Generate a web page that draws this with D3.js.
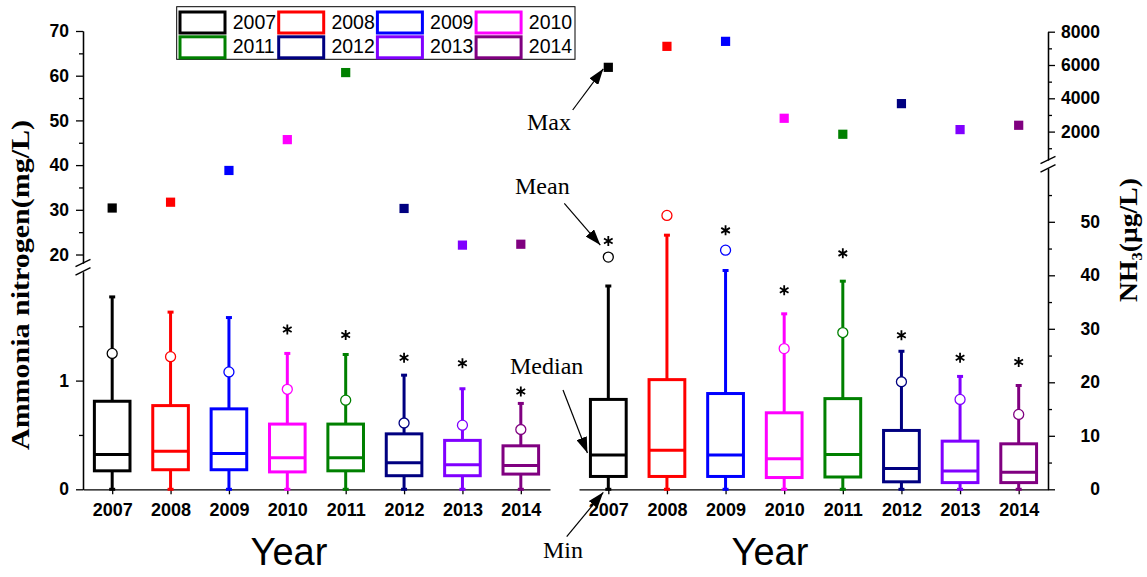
<!DOCTYPE html>
<html>
<head>
<meta charset="utf-8">
<script src="https://cdn.jsdelivr.net/npm/d3@7"></script>
<style>
    body { margin: 0; background: #fff; }
    svg { display: block; }
    .axis path, .axis line { stroke: #000; stroke-width: 1.3; }
    .axis text { font-family: "Liberation Sans", Arial, sans-serif; font-weight: bold; fill: #000; }
</style>
</head>
<body>
<div id="chart"></div>
<script>
// 年份與顏色
const years = ['2007', '2008', '2009', '2010', '2011', '2012', '2013', '2014'];
const colors = ['#000000', '#ff0000', '#0000ff', '#ff00ff', '#008000', '#000080', '#8000ff', '#800080'];

// 左圖：Ammonia nitrogen (mg/L)
const nitroMin = [0, 0, 0, 0, 0, 0, 0, 0];
const nitroQ1 = [0.17, 0.18, 0.18, 0.16, 0.17, 0.125, 0.125, 0.14];
const nitroMedian = [0.32, 0.35, 0.33, 0.29, 0.29, 0.245, 0.225, 0.22];
const nitroQ3 = [0.81, 0.77, 0.74, 0.60, 0.60, 0.51, 0.45, 0.40];
const nitroWhisker = [1.77, 1.63, 1.58, 1.25, 1.24, 1.05, 0.925, 0.79];
const nitroMean = [1.25, 1.22, 1.08, 0.92, 0.82, 0.61, 0.59, 0.55];
const nitroStar = [null, null, null, 1.47, 1.42, 1.21, 1.16, 0.90];
const nitroMax = [30.4, 31.7, 38.8, 45.7, 60.7, 30.3, 22.1, 22.3];

// 右圖：NH3 (μg/L)
const nh3Min = [0, 0, 0, 0, 0, 0, 0, 0];
const nh3Q1 = [2.4, 2.4, 2.4, 2.2, 2.3, 1.4, 1.25, 1.25];
const nh3Median = [6.4, 7.3, 6.4, 5.7, 6.5, 3.9, 3.4, 3.2];
const nh3Q3 = [16.8, 20.5, 17.9, 14.3, 16.95, 11.0, 9.0, 8.5];
const nh3Whisker = [38.0, 47.5, 40.9, 32.8, 38.9, 25.8, 21.1, 19.4];
const nh3Mean = [43.4, 51.2, 44.7, 26.3, 29.3, 20.1, 16.8, 14.0];
const nh3Star = [46.4, null, 48.4, 37.2, 44.1, 28.8, 24.6, 23.8];
const nh3Max = [5860, 7120, 7420, 2800, 1840, 3680, 2120, 2380];

// 刻度
const nitroLowTicks = [0, 1];
const nitroLowMinor = [0.5, 1.5];
const nitroHighTicks = [20, 30, 40, 50, 60, 70];
const nitroHighMinor = [25, 35, 45, 55, 65];
const nh3LowTicks = [0, 10, 20, 30, 40, 50];
const nh3LowMinor = [5, 15, 25, 35, 45, 55];
const nh3HighTicks = [2000, 4000, 6000, 8000];
const nh3HighMinor = [1000, 3000, 5000, 7000];

const width = 1147, height = 577;
const baseY = 489.3;

const svg = d3.select('#chart')
    .append('svg')
    .attr('width', width)
    .attr('height', height);

// 比例尺
const xLeft = d3.scalePoint().domain(years).range([83, 550]).padding(0.5);
const xRight = d3.scalePoint().domain(years).range([579, 1048]).padding(0.5);

const yLeftLow = d3.scaleLinear().domain([0, 2]).range([baseY, 271.9]);
const yLeftHigh = d3.scaleLinear().domain([18.1, 70]).range([263, 31]);
const yRightLow = d3.scaleLinear().domain([0, 60]).range([baseY, 168.3]);
const yRightHigh = d3.scaleLinear().domain([300, 8000]).range([159.9, 31.7]);

// 箭頭
svg.append('defs').append('marker')
    .attr('id', 'arrow')
    .attr('viewBox', '0 0 16 11')
    .attr('refX', 16)
    .attr('refY', 5.5)
    .attr('markerWidth', 16)
    .attr('markerHeight', 11)
    .attr('markerUnits', 'userSpaceOnUse')
    .attr('orient', 'auto')
    .append('path')
    .attr('d', 'M0,0L16,5.5L0,11Z')
    .attr('fill', '#000');

function drawYAxis(axisFn, scale, x, major, minor, labelRight) {
    const g = svg.append('g')
        .attr('class', 'axis')
        .attr('transform', `translate(${x},0)`);
    g.append('g')
        .call(axisFn(scale).tickValues(minor).tickSize(4).tickSizeOuter(0).tickFormat(''));
    const m = g.append('g')
        .call(axisFn(scale).tickValues(major).tickSize(7).tickSizeOuter(0).tickFormat(d3.format('d')));
    m.selectAll('text').style('font-size', '17.5px');
    if (labelRight) {
        m.selectAll('text').attr('text-anchor', 'end').attr('x', 52);
    } else {
        m.selectAll('text').attr('x', -14);
    }
}

function drawBreak(x, yc) {
    [-4.2, 4.2].forEach(off => {
        svg.append('line')
            .attr('x1', x - 7.5).attr('y1', yc + off + 3.7)
            .attr('x2', x + 7.5).attr('y2', yc + off - 3.7)
            .attr('stroke', '#000')
            .attr('stroke-width', 1.3);
    });
}

function drawXAxis(scale) {
    const g = svg.append('g')
        .attr('class', 'axis')
        .attr('transform', `translate(0,${baseY})`)
        .call(d3.axisBottom(scale).tickSize(5).tickSizeOuter(0));
    g.selectAll('text').style('font-size', '18px').attr('y', 14);
}

// 左圖座標軸
drawXAxis(xLeft);
drawYAxis(d3.axisLeft, yLeftLow, 83, nitroLowTicks, nitroLowMinor, false);
drawYAxis(d3.axisLeft, yLeftHigh, 83, nitroHighTicks, nitroHighMinor, false);
drawBreak(83, 267.2);

// 右圖座標軸
drawXAxis(xRight);
drawYAxis(d3.axisRight, yRightLow, 1048, nh3LowTicks, nh3LowMinor, true);
drawYAxis(d3.axisRight, yRightHigh, 1048, nh3HighTicks, nh3HighMinor, true);
drawBreak(1048, 164.2);

function drawBoxes(x, yLow, yHigh, s) {
    const boxW = x.step() * 0.61;
    const rows = years.map((yr, i) => ({
        year: yr, color: colors[i],
        min: s.min[i], q1: s.q1[i], median: s.median[i], q3: s.q3[i],
        whisker: s.whisker[i], mean: s.mean[i], star: s.star[i], max: s.max[i]
    }));

    const g = svg.append('g');
    const box = g.selectAll('g.box')
        .data(rows)
        .join('g')
        .attr('class', 'box')
        .attr('stroke', d => d.color);

    // 鬚線
    box.append('line')
        .attr('x1', d => x(d.year)).attr('x2', d => x(d.year))
        .attr('y1', d => yLow(d.q3)).attr('y2', d => yLow(d.whisker))
        .attr('stroke-width', 3);
    box.append('line')
        .attr('x1', d => x(d.year)).attr('x2', d => x(d.year))
        .attr('y1', d => yLow(d.q1)).attr('y2', d => yLow(d.min))
        .attr('stroke-width', 3);
    box.selectAll('line.cap')
        .data(d => [d.whisker, d.min].map(v => ({ year: d.year, v })))
        .join('line')
        .attr('class', 'cap')
        .attr('x1', d => x(d.year) - 3).attr('x2', d => x(d.year) + 3)
        .attr('y1', d => yLow(d.v)).attr('y2', d => yLow(d.v))
        .attr('stroke-width', 3);

    // 箱體
    box.append('rect')
        .attr('x', d => x(d.year) - boxW / 2)
        .attr('width', boxW)
        .attr('y', d => yLow(d.q3))
        .attr('height', d => yLow(d.q1) - yLow(d.q3))
        .attr('fill', 'none')
        .attr('stroke-width', 3);
    box.append('line')
        .attr('x1', d => x(d.year) - boxW / 2).attr('x2', d => x(d.year) + boxW / 2)
        .attr('y1', d => yLow(d.median)).attr('y2', d => yLow(d.median))
        .attr('stroke-width', 3);

    // 平均值
    box.append('circle')
        .attr('cx', d => x(d.year))
        .attr('cy', d => yLow(d.mean))
        .attr('r', 5)
        .attr('fill', '#fff')
        .attr('stroke-width', 1.3);

    // 星號
    box.filter(d => d.star != null)
        .append('path')
        .attr('d', d3.symbol(d3.symbolAsterisk, 70))
        .attr('transform', d => `translate(${x(d.year)},${yLow(d.star)})`)
        .attr('stroke', '#000')
        .attr('stroke-width', 1.8)
        .attr('fill', 'none');

    // 最大值
    box.append('rect')
        .attr('x', d => x(d.year) - 4.6)
        .attr('y', d => yHigh(d.max) - 4.6)
        .attr('width', 9.2)
        .attr('height', 9.2)
        .attr('fill', d => d.color)
        .attr('stroke', 'none');
}

drawBoxes(xLeft, yLeftLow, yLeftHigh, {
    min: nitroMin, q1: nitroQ1, median: nitroMedian, q3: nitroQ3,
    whisker: nitroWhisker, mean: nitroMean, star: nitroStar, max: nitroMax
});
drawBoxes(xRight, yRightLow, yRightHigh, {
    min: nh3Min, q1: nh3Q1, median: nh3Median, q3: nh3Q3,
    whisker: nh3Whisker, mean: nh3Mean, star: nh3Star, max: nh3Max
});

// 軸標題
svg.append('text')
    .attr('transform', 'translate(28.5,285) rotate(-90)')
    .attr('text-anchor', 'middle')
    .attr('textLength', 330)
    .attr('lengthAdjust', 'spacingAndGlyphs')
    .style('font-family', '"Liberation Serif", "Times New Roman", serif')
    .style('font-weight', 'bold')
    .style('font-size', '25px')
    .text('Ammonia nitrogen(mg/L)');

const nh3Title = svg.append('text')
    .attr('transform', 'translate(1137,240) rotate(-90)')
    .attr('text-anchor', 'middle')
    .attr('textLength', 124)
    .attr('lengthAdjust', 'spacingAndGlyphs')
    .style('font-family', '"Liberation Serif", "Times New Roman", serif')
    .style('font-weight', 'bold')
    .style('font-size', '25px');
nh3Title.append('tspan').text('NH');
nh3Title.append('tspan').attr('dy', 5).style('font-size', '15px').text('3');
nh3Title.append('tspan').attr('dy', -5).text('(μg/L)');

[['Year', 289], ['Year', 770]].forEach(([t, cx]) => {
    svg.append('text')
        .attr('x', cx)
        .attr('y', 565)
        .attr('text-anchor', 'middle')
        .style('font-family', '"Liberation Sans", Arial, sans-serif')
        .style('font-size', '38px')
        .text(t);
});

// 註解
const x0 = xRight(years[0]);
const boxW0 = xRight.step() * 0.61;
const notes = [
    { text: 'Max', tx: 527, ty: 129.5, from: [572.7, 110], to: [x0 - 5, yRightHigh(nh3Max[0]) + 1.5] },
    { text: 'Mean', tx: 515, ty: 193.5, from: [564.3, 203.3], to: [x0 - 8, yRightLow(nh3Star[0]) + 4] },
    { text: 'Median', tx: 510, ty: 373.5, from: [563, 390], to: [x0 - boxW0 / 2 - 3, yRightLow(nh3Median[0]) - 2] },
    { text: 'Min', tx: 543, ty: 557.5, from: [566.7, 536.7], to: [x0 - 5, yRightLow(nh3Min[0]) + 3] }
];
notes.forEach(n => {
    svg.append('text')
        .attr('x', n.tx)
        .attr('y', n.ty)
        .style('font-family', '"Liberation Serif", "Times New Roman", serif')
        .style('font-size', '24px')
        .text(n.text);
    svg.append('line')
        .attr('x1', n.from[0]).attr('y1', n.from[1])
        .attr('x2', n.to[0]).attr('y2', n.to[1])
        .attr('stroke', '#000')
        .attr('stroke-width', 1.2)
        .attr('marker-end', 'url(#arrow)');
});

// 圖例
const legend = svg.append('g');
legend.append('rect')
    .attr('x', 176.7).attr('y', 6.7)
    .attr('width', 398.3).attr('height', 52.6)
    .attr('fill', '#fff')
    .attr('stroke', '#000')
    .attr('stroke-width', 1);
const items = legend.selectAll('g.item')
    .data(years)
    .join('g')
    .attr('class', 'item')
    .attr('transform', (d, i) => `translate(${180 + (i % 4) * 98.7},${12 + Math.floor(i / 4) * 24.8})`);
items.append('rect')
    .attr('width', 45).attr('height', 21)
    .attr('fill', '#fff')
    .attr('stroke', (d, i) => colors[i])
    .attr('stroke-width', 3);
items.append('text')
    .attr('x', 52.7)
    .attr('y', 16.5)
    .style('font-family', '"Liberation Sans", Arial, sans-serif')
    .style('font-size', '19.5px')
    .text(d => d);
</script>
</body>
</html>
